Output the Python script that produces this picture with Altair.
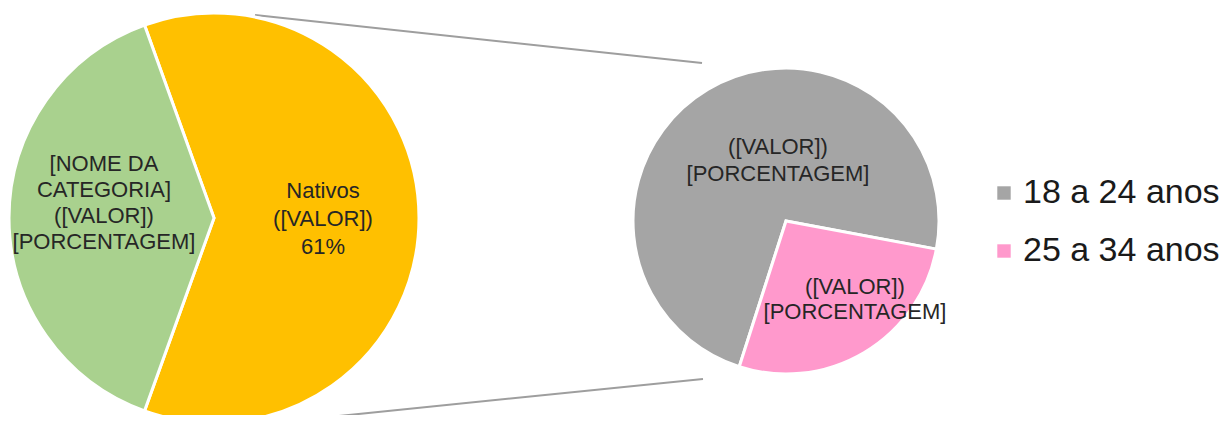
import math
import altair as alt
import pandas as pd

# ---- data ----
main_cats = ["Nativos", "[NOME DA CATEGORIA]"]
main_vals = [61, 39]
main_labels = ["Nativos\n([VALOR])\n61%", "[NOME DA\nCATEGORIA]\n([VALOR])\n[PORCENTAGEM]"]

sub_cats = ["18 a 24 anos", "25 a 34 anos"]
sub_vals = [73, 27]
sub_labels = ["([VALOR])\n[PORCENTAGEM]", "([VALOR])\n[PORCENTAGEM]"]

all_cats = main_cats + sub_cats
all_colors = ["#FFC000", "#A9D18E", "#A5A5A5", "#FF99CC"]

# ---- layout (chart coordinates = page - 8) ----
W, H = 1213, 407
C1 = (206, 210); R1 = 205
C2 = (778, 213); R2 = 153
start1 = math.radians(-19.8)
start2 = math.radians(197.8)

df_main = pd.DataFrame({"cat": main_cats, "value": main_vals, "ord": [0, 1]})
df_sub = pd.DataFrame({"cat": sub_cats, "value": sub_vals, "ord": [0, 1]})

color = alt.Color(
    "cat:N",
    scale=alt.Scale(domain=all_cats, range=all_colors),
    legend=alt.Legend(
        values=sub_cats, title=None, orient="none", legendX=979, legendY=168,
        symbolType="square", symbolSize=180, symbolStrokeWidth=0,
        labelFontSize=34, labelFont="Liberation Sans", labelColor="#1a1a1a",
        labelOffset=2, rowPadding=24, labelLimit=400,
    ),
)

pie1 = alt.Chart(df_main).mark_arc(
    radius=R1, x=C1[0], y=C1[1], stroke="white", strokeWidth=3
).encode(
    theta=alt.Theta("value:Q", stack=True,
                    scale=alt.Scale(range=[start1, start1 + 2 * math.pi])),
    color=color,
    order=alt.Order("ord:Q"),
)

pie2 = alt.Chart(df_sub).mark_arc(
    radius=R2, x=C2[0], y=C2[1], stroke="white", strokeWidth=3
).encode(
    theta=alt.Theta("value:Q", stack=True,
                    scale=alt.Scale(range=[start2, start2 + 2 * math.pi])),
    color=color,
    order=alt.Order("ord:Q"),
)

conn_color = "#9E9E9E"
top_line = alt.Chart(pd.DataFrame({"a": [0]})).mark_rule(
    color=conn_color, strokeWidth=2
).encode(
    x=alt.value(C1[0] + 41), y=alt.value(C1[1] - R1 + 2),
    x2=alt.value(C2[0] - 84), y2=alt.value(C2[1] - R2 - 5),
)
bot_line = alt.Chart(pd.DataFrame({"a": [0]})).mark_rule(
    color=conn_color, strokeWidth=2
).encode(
    x=alt.value(C1[0] + 56), y=alt.value(C1[1] + R1),
    x2=alt.value(C2[0] - 83), y2=alt.value(C2[1] + R2 + 5),
)

def label_layer(text, x, y, lh=26):
    return alt.Chart(pd.DataFrame({"t": [text]})).mark_text(
        x=x, y=y, lineBreak="\n", fontSize=22, font="Liberation Sans",
        color="#262626", align="center", baseline="middle", lineHeight=lh,
    ).encode(text="t:N")

labels = [
    label_layer(main_labels[0], 315, 183, 28),
    label_layer(main_labels[1], 96, 156, 26),
    label_layer(sub_labels[0], 770, 139, 27),
    label_layer(sub_labels[1], 847, 279, 25),
]

chart = alt.layer(
    top_line, bot_line, pie1, pie2, *labels
).resolve_scale(theta="independent").properties(
    width=W, height=H, padding=0,
    autosize=alt.AutoSizeParams(type="none"),
).configure_view(stroke=None)

chart.save("out.html", embed_options={"renderer": "svg", "actions": False})
